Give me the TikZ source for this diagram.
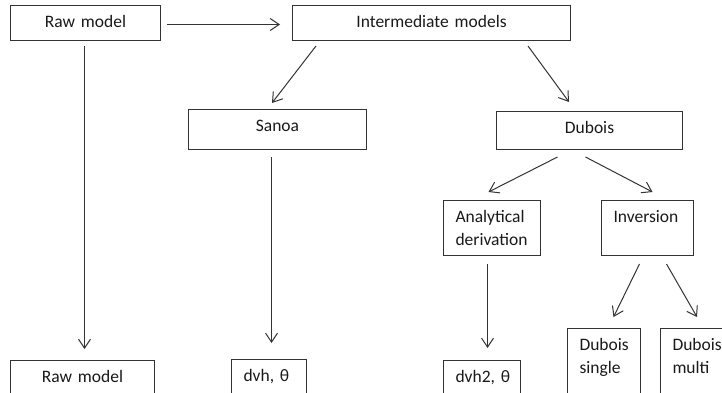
\documentclass[tikz,border=0pt]{standalone}
\usepackage{fontspec}
\setmainfont{Carlito}
\usetikzlibrary{arrows.meta}
\tikzset{
  box/.style={draw=black!80, line width=1pt, anchor=north west, inner ysep=0pt,
    text height=22pt, text=black!90, font=\fontsize{17.5}{23}\selectfont},
  cbox/.style 2 args={box, align=center, inner xsep=0pt, text width=#1pt, text depth=#2pt-22pt},
  lbox/.style 2 args={box, align=left, inner xsep=12pt, text width=#1pt-24pt, text depth=#2pt-22pt},
  arr/.style={-{Straight Barb[length=9pt,width=12pt]}, draw=black!80, line width=1pt}
}
\begin{document}
\begin{tikzpicture}[x=1pt, y=-1pt]
  \useasboundingbox (0,0) rectangle (722,393);
  \clip (0,0) rectangle (722,393);
  % boxes
  \node[cbox={150}{35}] (rawtop) at (10,5) {Raw model};
  \node[cbox={278}{35}] (inter) at (292,5) {Intermediate models};
  \node[cbox={178}{40}] (sanoa) at (188,109) {Sanoa};
  \node[cbox={186}{38}] (dubois) at (496,111) {Dubois};
  \node[lbox={97}{55}] (anal) at (443,200) {Analytical\\derivation};
  \node[lbox={92}{55}] (inv) at (601,200) {Inversion};
  \node[cbox={144}{60}] (rawbot) at (10,360) {Raw model};
  \node[lbox={75}{60}] (dvh) at (231,359) {dvh,~θ};
  \node[lbox={77}{60}] (dvhtwo) at (443,360) {dvh2,~θ};
  \node[lbox={73}{80}] (single) at (567,328) {Dubois\\single};
  \node[lbox={75}{80}] (multi) at (660,328) {Dubois\\multi};
  % arrows
  \draw[arr] ([shift={(6,1.5)}]rawtop.east) -- ([shift={(-12,1.5)}]inter.west);
  \draw[arr] ([shift={(-1,5)}]rawtop.south) -- ([shift={(2,-11)}]rawbot.north);
  \draw[arr] ([shift={(24,5)}]inter.south west) -- ([shift={(84,-6)}]sanoa.north west);
  \draw[arr] ([shift={(-43,5)}]inter.south east) -- ([shift={(73,-9)}]dubois.north west);
  \draw[arr] ([shift={(-6,7)}]sanoa.south) -- ([shift={(2.5,-16)}]dvh.north);
  \draw[arr] ([shift={(-32,7)}]dubois.south) -- ([shift={(-3.5,-8)}]anal.north);
  \draw[arr] ([shift={(-4,7)}]dubois.south) -- ([shift={(5,-8)}]inv.north);
  \draw[arr] ([shift={(-4.5,8)}]anal.south) -- ([shift={(5.5,-12)}]dvhtwo.north);
  \draw[arr] ([shift={(-8,8)}]inv.south) -- ([shift={(9.5,-11)}]single.north);
  \draw[arr] ([shift={(19,8)}]inv.south) -- ([shift={(37,-11)}]multi.north west);
\end{tikzpicture}
\end{document}
